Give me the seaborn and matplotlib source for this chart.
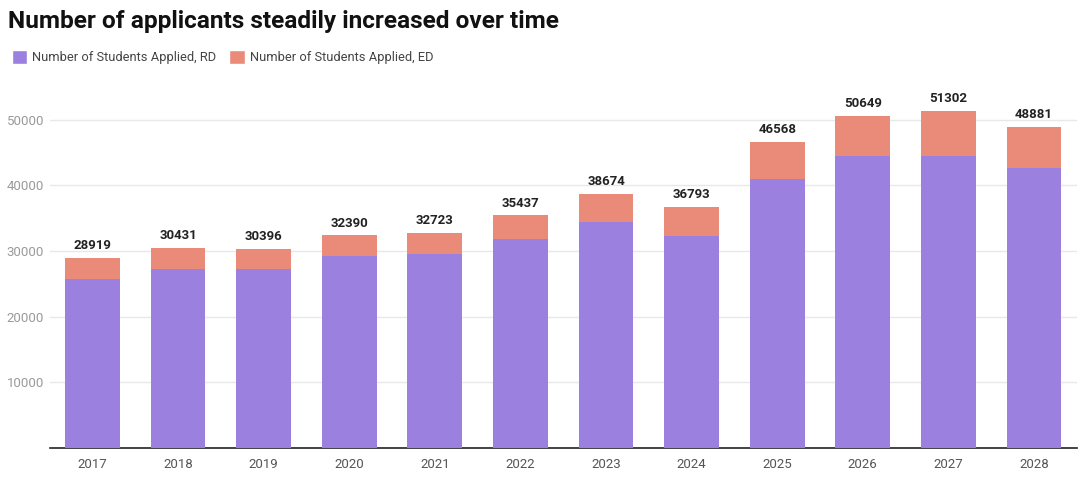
import matplotlib
matplotlib.use("Agg")
import matplotlib.pyplot as plt
import seaborn as sns
import pandas as pd
from matplotlib.patches import Patch

# Data
years = ["2017", "2018", "2019", "2020", "2021", "2022",
         "2023", "2024", "2025", "2026", "2027", "2028"]
totals = [28919, 30431, 30396, 32390, 32723, 35437,
          38674, 36793, 46568, 50649, 51302, 48881]
rd_applied = [25800, 27350, 27350, 29270, 29530, 31920,
              34400, 32270, 41050, 44440, 44440, 42660]
ed_applied = [t - r for t, r in zip(totals, rd_applied)]

rd_color = "#9b80e0"
ed_color = "#ea8b79"

df = pd.DataFrame({"Year": years, "Total": totals, "RD": rd_applied, "ED": ed_applied})

sns.set_style("white")
plt.rcParams["font.family"] = ["Roboto", "DejaVu Sans"]

fig = plt.figure(figsize=(10.8, 4.86), dpi=100)
ax = fig.add_axes([0.046, 0.078, 0.951, 0.743])

# stacked bars: total (ED on top) drawn first, RD over it
sns.barplot(data=df, x="Year", y="Total", color=ed_color, width=0.64,
            saturation=1, linewidth=0, edgecolor="none", ax=ax, zorder=2)
sns.barplot(data=df, x="Year", y="RD", color=rd_color, width=0.64,
            saturation=1, linewidth=0, edgecolor="none", ax=ax, zorder=3)

# total labels above bars
for i, t in enumerate(df["Total"]):
    ax.text(i, t + 900, f"{t}", ha="center", va="bottom",
            fontsize=9.5, fontweight="bold", color="#222222")

ax.set_ylim(0, 55000)
ax.set_xlim(-0.5, len(years) - 0.5)
ax.set_yticks([10000, 20000, 30000, 40000, 50000])
ax.yaxis.grid(True, color="#e8e8e8", linewidth=1, zorder=0)
ax.set_axisbelow(True)
ax.tick_params(axis="y", length=0, labelsize=9.5, labelcolor="#9a9a9a", pad=4)
ax.tick_params(axis="x", length=0, labelsize=9.5, labelcolor="#555555", pad=7)
ax.set_xlabel("")
ax.set_ylabel("")
for side in ["top", "right", "left"]:
    ax.spines[side].set_visible(False)
ax.spines["bottom"].set_color("#222222")
ax.spines["bottom"].set_linewidth(1.2)

fig.text(0.007, 0.955, "Number of applicants steadily increased over time",
         fontsize=17.6, fontweight="bold", color="#111111", ha="left", va="center")

handles = [Patch(facecolor=rd_color, label="Number of Students Applied, RD"),
           Patch(facecolor=ed_color, label="Number of Students Applied, ED")]
fig.legend(handles=handles, loc="center left", bbox_to_anchor=(0.0, 0.882),
           ncol=2, frameon=False, fontsize=9.3, labelcolor="#444444",
           handlelength=1.2, handleheight=1.2, handletextpad=0.4, columnspacing=1.0)

fig.savefig("out.png", dpi=100)
